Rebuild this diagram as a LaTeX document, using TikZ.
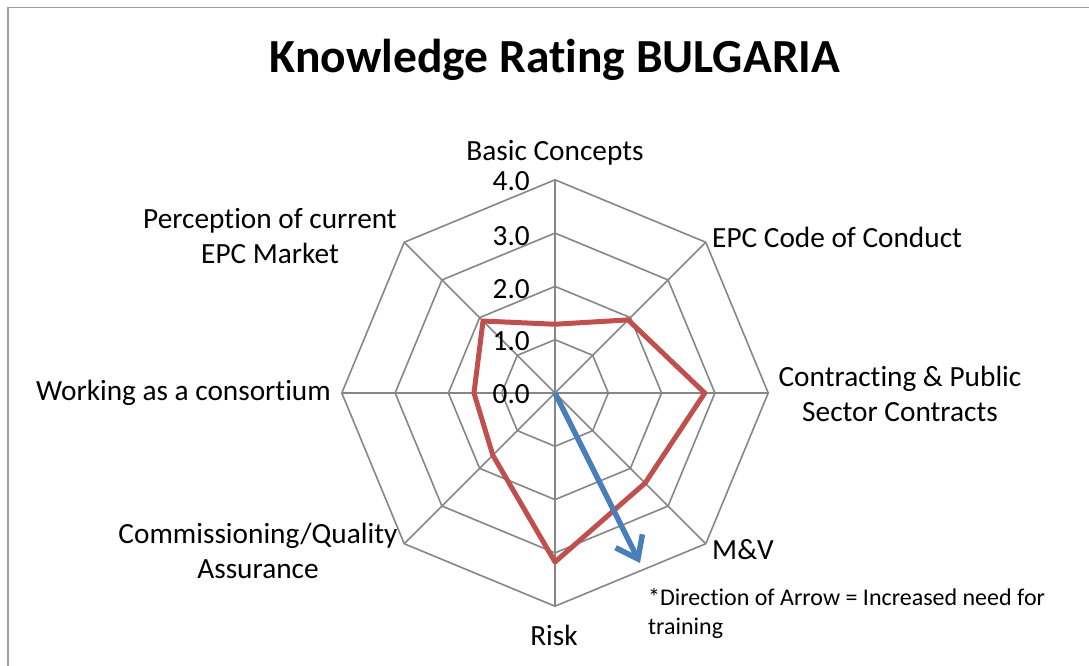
\documentclass[tikz,border=0pt]{standalone}
\usepackage{fontspec}
\setmainfont[Ligatures=NoCommon]{Carlito}
\usetikzlibrary{arrows.meta}
\definecolor{gridgray}{HTML}{868686}
\definecolor{serred}{HTML}{C0504D}
\definecolor{arrblue}{HTML}{4A7EBB}
\definecolor{framegray}{HTML}{A0A0A0}
\begin{document}
\begin{tikzpicture}[x=1pt,y=-1pt,
  gridline/.style={draw=gridgray,line width=1.6pt},
  series/.style={draw=serred,line width=5pt,line join=round},
  trend/.style={draw=arrblue,line width=5.5pt,-{Straight Barb[length=20pt,width=30pt,line width=5.5pt]}},
  axlabel/.style={font=\fontsize{29.3}{35}\selectfont,align=center,inner sep=0pt},
  ticklabel/.style={font=\fontsize{29.3}{32}\selectfont,anchor=east,inner sep=0pt},
  titlelabel/.style={font=\fontsize{47.5}{54}\selectfont\bfseries,inner sep=0pt},
  notelabel/.style={font=\fontsize{24}{29}\selectfont,align=left,anchor=north west,inner sep=0pt}]
\useasboundingbox (0,0) rectangle (1089,666);
\draw[draw=framegray,line width=1.5pt] (8,7.5) rectangle (1100,690);
\def\U{53.3}
\coordinate (O) at (555,393);
% spokes and vertices
\foreach \k in {0,...,7}{
  \coordinate (v\k) at ({555+4*\U*cos(45*\k-90)},{393+4*\U*sin(45*\k-90)});
  \draw[gridline] (O) -- (v\k);
}
% rings
\foreach \r in {1,...,4}{
  \draw[gridline] (555,{393-\r*\U}) \foreach \k in {1,...,7}{ -- ({555+\r*\U*cos(45*\k-90)},{393+\r*\U*sin(45*\k-90)}) } -- cycle;
}
% data
\foreach \k/\v in {0/1.29,1/1.94,2/2.81,3/2.39,4/3.17,5/1.65,6/1.52,7/1.91}{
  \coordinate (p\k) at ({555+\v*\U*cos(45*\k-90)},{393+\v*\U*sin(45*\k-90)});
}
\draw[series] (p0) -- (p1) -- (p2) -- (p3) -- (p4) -- (p5) -- (p6) -- (p7) -- cycle;
% tick labels
\node[ticklabel] (t4) at (530,181) {4.0};
\node[ticklabel] (t3) at (530,236) {3.0};
\node[ticklabel] (t2) at (530,289) {2.0};
\node[ticklabel] (t1) at (530,341) {1.0};
\node[ticklabel] (t0) at (530,394) {0.0};
% trend arrow
\coordinate (tip) at (640,563);
\draw[trend] (O) -- (tip);
% title
\node[titlelabel] (title) at (555,60) {Knowledge Rating BULGARIA};
% axis labels
\node[axlabel] (l0) at (555,153) {Basic Concepts};
\node[axlabel,anchor=west] (l1) at (712,237) {EPC Code of Conduct};
\node[axlabel] (l2) at (900,394) {Contracting \& Public\\Sector Contracts};
\node[axlabel,anchor=west] (l3) at (712,550) {M\&V};
\node[axlabel] (l4) at (554,635) {Risk};
\node[axlabel] (l5) at (258,551) {Commissioning/Quality\\Assurance};
\node[axlabel,anchor=east] (l6) at (331,393) {Working as a consortium};
\node[axlabel] (l7) at (270,236) {Perception of current\\EPC Market};
% note
\node[notelabel] (note) at (648,588) {*Direction of Arrow = Increased need for\\training};
\end{tikzpicture}
\end{document}
